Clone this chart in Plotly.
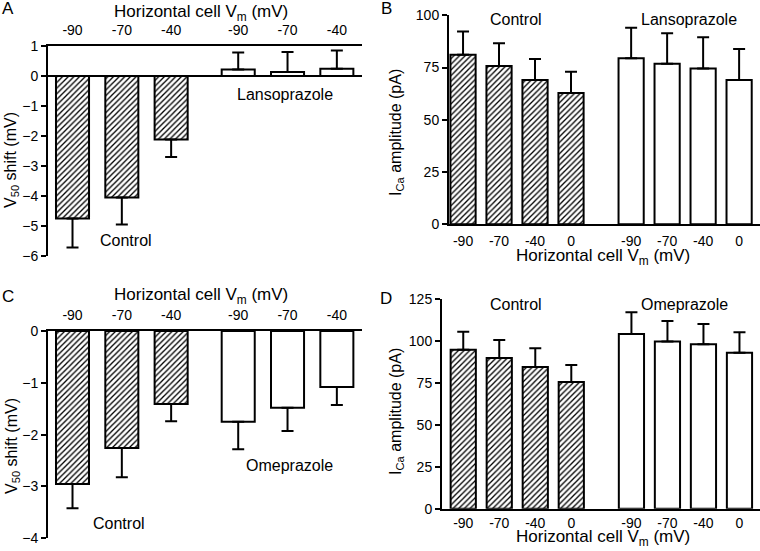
import plotly.graph_objects as go

W, H = 760, 551
FONT = "Liberation Sans, Arial, sans-serif"

# ---------------- data ----------------
vm_shift_labels = ["-90", "-70", "-40"]
vm_amp_labels = ["-90", "-70", "-40", "0"]

# Panel A: V50 shift (mV)
a_control = [-4.75, -4.05, -2.12]
a_control_sem = [0.97, 0.90, 0.58]
a_lanso = [0.22, 0.13, 0.24]
a_lanso_sem = [0.56, 0.67, 0.61]

# Panel B: ICa amplitude (pA)
b_control = [81.1, 75.7, 69.0, 62.8]
b_control_sem = [11.1, 10.9, 10.1, 10.2]
b_lanso = [79.4, 76.8, 74.6, 69.0]
b_lanso_sem = [14.7, 14.6, 14.9, 14.9]

# Panel C: V50 shift (mV)
c_control = [-2.95, -2.26, -1.41]
c_control_sem = [0.47, 0.56, 0.33]
c_omep = [-1.75, -1.48, -1.08]
c_omep_sem = [0.53, 0.45, 0.35]

# Panel D: ICa amplitude (pA)
d_control = [94.8, 89.9, 84.5, 75.5]
d_control_sem = [10.7, 10.7, 11.1, 10.2]
d_omep = [104.2, 99.6, 98.0, 93.0]
d_omep_sem = [12.9, 12.3, 12.1, 12.2]

# category positions (group gap)
pos_shift_ctrl = [0, 1, 2]
pos_shift_drug = [3.36, 4.36, 5.36]
pos_amp_ctrl = [0, 1, 2, 3]
pos_amp_drug = [4.67, 5.67, 6.67, 7.67]


def fx(p):
    return p / W


def fy(p):
    return 1 - p / H


fig = go.Figure()

HATCH = dict(shape="/", fgcolor="black", bgcolor="white", size=4, solidity=0.33)


def add_bars(xs, ys, sems, hatched, xa, ya, width, down):
    err = dict(type="data", symmetric=False, color="black", thickness=2, width=6, visible=True)
    if down:
        err["array"] = [0] * len(sems)
        err["arrayminus"] = sems
    else:
        err["array"] = sems
        err["arrayminus"] = [0] * len(sems)
    marker = dict(color="white", line=dict(color="black", width=2))
    if hatched:
        marker["pattern"] = HATCH
    fig.add_trace(go.Bar(x=xs, y=ys, width=width, marker=marker, error_y=err,
                         xaxis=xa, yaxis=ya, showlegend=False, hoverinfo="skip"))


# A
add_bars(pos_shift_ctrl, a_control, a_control_sem, True, "x", "y", 0.67, True)
add_bars(pos_shift_drug, a_lanso, a_lanso_sem, False, "x", "y", 0.67, False)
# B
add_bars(pos_amp_ctrl, b_control, b_control_sem, True, "x2", "y2", 0.70, False)
add_bars(pos_amp_drug, b_lanso, b_lanso_sem, False, "x2", "y2", 0.70, False)
# C
add_bars(pos_shift_ctrl, c_control, c_control_sem, True, "x3", "y3", 0.67, True)
add_bars(pos_shift_drug, c_omep, c_omep_sem, False, "x3", "y3", 0.67, True)
# D
add_bars(pos_amp_ctrl, d_control, d_control_sem, True, "x4", "y4", 0.70, False)
add_bars(pos_amp_drug, d_omep, d_omep_sem, False, "x4", "y4", 0.70, False)

TICKFONT = dict(family=FONT, size=14, color="black")
base_x = dict(showline=True, linewidth=2, linecolor="black", ticks="", showgrid=False,
              zeroline=False, tickfont=TICKFONT, fixedrange=True, automargin=False)
base_y = dict(showline=True, linewidth=2, linecolor="black", ticks="outside", ticklen=5,
              tickwidth=2, tickcolor="black", showgrid=False, tickfont=TICKFONT,
              fixedrange=True, automargin=False)

fig.update_layout(
    template="none",
    width=W, height=H, margin=dict(l=0, r=0, t=0, b=0, autoexpand=False),
    paper_bgcolor="white", plot_bgcolor="white", bargap=0,
    font=dict(family=FONT, color="black"),
    xaxis=dict(base_x, domain=[fx(48), fx(362)], range=[-0.497, 5.87], side="top", anchor="y",
               tickvals=pos_shift_ctrl + pos_shift_drug, ticktext=vm_shift_labels * 2,
               ticklabelstandoff=3),
    yaxis=dict(base_y, domain=[fy(256), fy(46)], range=[-6, 1], dtick=1, anchor="x",
               zeroline=True, zerolinewidth=2, zerolinecolor="black"),
    xaxis2=dict(base_x, domain=[fx(449), fx(760)], range=[-0.39, 8.25], side="bottom", anchor="y2",
                tickvals=pos_amp_ctrl + pos_amp_drug, ticktext=vm_amp_labels * 2,
                ticklabelstandoff=3),
    yaxis2=dict(base_y, domain=[fy(224.3), fy(15.3)], range=[0, 100], dtick=25, anchor="x2",
                zeroline=False),
    xaxis3=dict(base_x, domain=[fx(48), fx(362)], range=[-0.497, 5.87], side="top", anchor="y3",
                tickvals=pos_shift_ctrl + pos_shift_drug, ticktext=vm_shift_labels * 2,
                ticklabelstandoff=3),
    yaxis3=dict(base_y, domain=[fy(538.3), fy(331)], range=[-4, 0], dtick=1, anchor="x3",
                zeroline=False),
    xaxis4=dict(base_x, domain=[fx(442), fx(760)], range=[-0.59, 8.24], side="bottom", anchor="y4",
                tickvals=pos_amp_ctrl + pos_amp_drug, ticktext=vm_amp_labels * 2,
                ticklabelstandoff=0),
    yaxis4=dict(base_y, domain=[fy(508.7), fy(299)], range=[0, 125], dtick=25, anchor="x4",
                zeroline=False),
)

ann = []


def text(t, px, py, size=16, angle=0):
    ann.append(dict(text=t, x=fx(px), y=fy(py), xref="paper", yref="paper",
                    showarrow=False, xanchor="center", yanchor="middle",
                    textangle=angle, font=dict(family=FONT, size=size, color="black")))


XT = "Horizontal cell V<sub>m</sub> (mV)"
YT_SHIFT = "V<sub>50</sub> shift (mV)"
YT_AMP = "I<sub>Ca</sub> amplitude (pA)"

# panel letters
text("A", 8, 9, 17)
text("B", 386, 9, 17)
text("C", 8, 296, 17)
text("D", 386, 299, 17)

# axis titles
text(XT, 201, 13, 17)
text(XT, 603, 257, 17)
text(XT, 201, 296, 17)
text(XT, 603, 538, 17)
text(YT_SHIFT, 12, 160, angle=-90)
text(YT_SHIFT, 12, 446, angle=-90)
text(YT_AMP, 396, 132, angle=-90)
text(YT_AMP, 396, 411, angle=-90)

# group labels
text("Lansoprazole", 285, 94)
text("Control", 125.5, 240)
text("Control", 516, 19.5)
text("Lansoprazole", 688.5, 19.5)
text("Omeprazole", 289.5, 465.5)
text("Control", 119.5, 523)
text("Control", 516, 304)
text("Omeprazole", 684, 304)

fig.update_layout(annotations=ann)
fig.write_html("out.html", config={"displayModeBar": False, "staticPlot": True},
               post_script="document.body.style.margin='0';document.body.style.overflow='hidden';")
